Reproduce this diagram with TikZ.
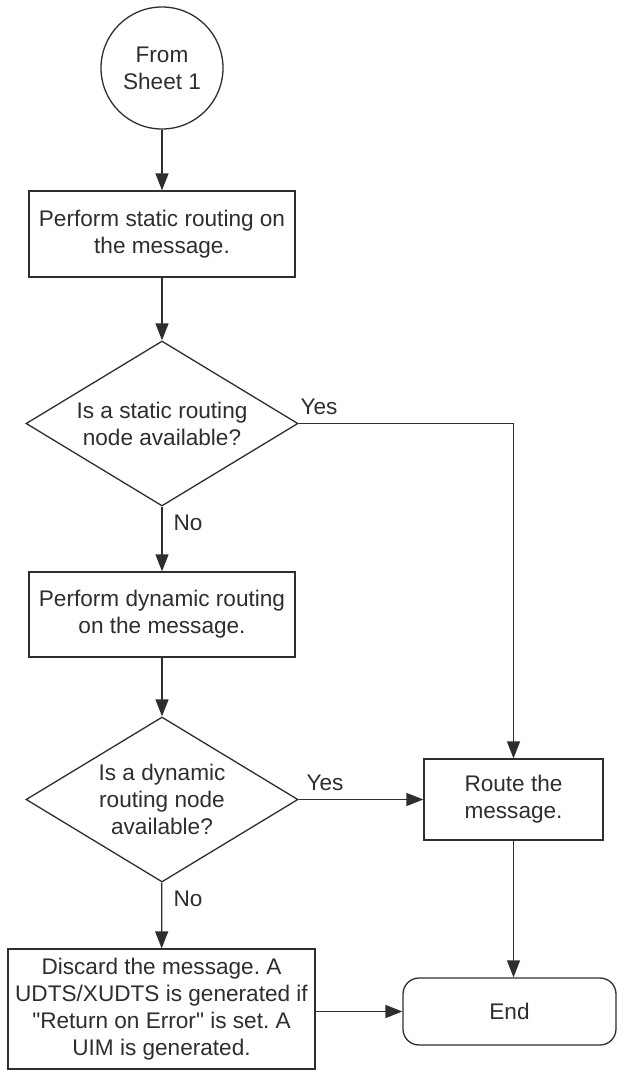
\documentclass[tikz,border=0pt]{standalone}
\usepackage{fontspec}
\setmainfont{Liberation Sans}[Ligatures=TeXOff]
\usetikzlibrary{arrows.meta,shapes.geometric,positioning}

\definecolor{inkgray}{HTML}{2E2E2E}
\frenchspacing

\begin{document}
\begin{tikzpicture}[x = 1pt, y = -1pt, style={font=\fontsize{22.6}{27}\selectfont},
  every node/.style={text=inkgray},
  procbox/.style={draw=inkgray, line width=1.3pt, align=center, inner sep=0pt},
  decision/.style={draw=inkgray, diamond, aspect=1.65, line width=1.3pt, align=center, inner sep=0pt,
    minimum width=272pt, minimum height=165pt},
  flow/.style={draw=inkgray, line width=1.3pt, -{Triangle[length=17pt, width=13pt]}}]
% Page
\fill[white] (0,0) rectangle (617,1071);
\useasboundingbox (0,0) rectangle (617,1071);
% Left column
\node[circle, draw=inkgray, line width=1.3pt, minimum size=122pt, inner sep=0pt, align=center] (start) at (162,68) {From\\Sheet 1};
\node[procbox, minimum width=266pt, minimum height=86pt] (static) at (162,234) {Perform static routing on\\the message.};
\node[decision] (staticq) at (162,423.5) {Is a static routing\\node available?};
\node[procbox, minimum width=266pt, minimum height=85pt] (dynamic) at (162,614.5) {Perform dynamic routing\\on the message.};
\node[decision] (dynamicq) at (162,799.5) {Is a dynamic\\routing node\\available?};
\node[procbox, minimum width=307pt, minimum height=120pt] (discard) at (161.5,1009) {Discard the message. A\\UDTS/XUDTS is generated if\\"Return on Error" is set. A\\UIM is generated.};
% Right column
\node[procbox, minimum width=179pt, minimum height=81pt] (route) at (513.5,799.5) {Route the\\message.};
\node[procbox, rounded corners=16pt, minimum width=213pt, minimum height=67pt] (end) at (509.5,1011.5) {End};
% Branch labels
\node (yes1) at (319,407) {Yes};
\node (no1) at (188,523) {No};
\node (yes2) at (325,783) {Yes};
\node (no2) at (188,899) {No};
% Connectors
\draw[flow] (start) -- (static);
\draw[flow] (static) -- (staticq);
\draw[flow] (staticq) -- (dynamic);
\draw[flow] (dynamic) -- (dynamicq);
\draw[flow] (dynamicq) -- (discard);
\draw[flow] (staticq.east) -| (route.north);
\draw[flow] (dynamicq.east) -- (route.west);
\draw[flow] (route.south) -- (route.south |- end.north);
\draw[flow] (end.west -| discard.east) -- (end.west);
\end{tikzpicture}
\end{document}
